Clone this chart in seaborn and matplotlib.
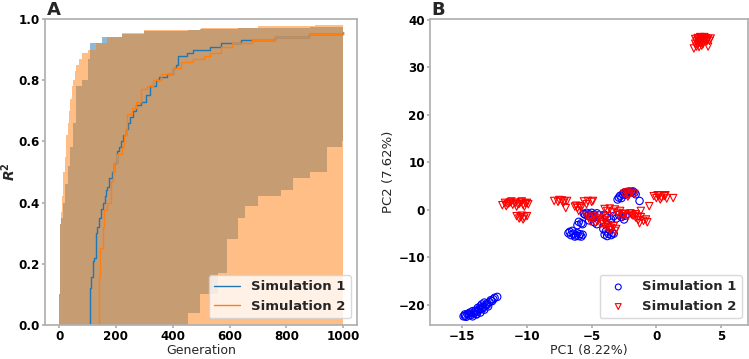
import matplotlib
matplotlib.use("Agg")
import matplotlib.pyplot as plt
import seaborn as sns

# ---- panel A: R^2 over generations (steps) ----
sim1_med_gen = [107, 110, 113, 118, 122, 130, 135, 139, 146, 153, 160, 165, 170, 176, 185, 194, 203, 210, 217,
                225, 234, 242, 250, 260, 270, 290, 305, 320, 340, 350, 380, 400, 410, 420, 450, 470, 530, 570,
                640, 760, 880, 1000]
sim1_med_r2 = [0.0, 0.12, 0.155, 0.21, 0.22, 0.30, 0.32, 0.35, 0.38, 0.40, 0.42, 0.44, 0.45, 0.48, 0.50, 0.53,
               0.57, 0.58, 0.60, 0.62, 0.64, 0.66, 0.68, 0.70, 0.72, 0.73, 0.75, 0.78, 0.80, 0.81, 0.82, 0.84,
               0.85, 0.88, 0.89, 0.90, 0.91, 0.92, 0.93, 0.94, 0.95, 0.957]
sim2_med_gen = [136, 139, 145, 153, 158, 170, 182, 188, 194, 205, 220, 228, 234, 240, 255, 270, 290, 310, 330,
                360, 400, 430, 470, 510, 530, 570, 610, 680, 760, 880, 1000]
sim2_med_r2 = [0.0, 0.155, 0.25, 0.32, 0.375, 0.40, 0.47, 0.50, 0.53, 0.56, 0.58, 0.62, 0.64, 0.69, 0.71, 0.73,
               0.77, 0.78, 0.80, 0.82, 0.84, 0.86, 0.87, 0.88, 0.89, 0.91, 0.92, 0.93, 0.94, 0.95, 0.957]

sim1_band_gen = [0, 2, 8, 15, 22, 30, 40, 50, 60, 80, 100, 110, 150, 220, 300, 455, 495, 560, 590, 630,
                 655, 700, 780, 825, 885, 945, 995, 1000]
sim1_band_lo = [0, 0, 0, 0, 0, 0, 0, 0, 0, 0, 0, 0, 0, 0, 0, 0.04, 0.10, 0.17, 0.28, 0.35, 0.39, 0.42, 0.44,
                0.48, 0.50, 0.58, 0.60, 0.60]
sim1_band_hi = [0.10, 0.33, 0.35, 0.40, 0.46, 0.52, 0.58, 0.66, 0.78, 0.80, 0.87, 0.92, 0.94, 0.952, 0.960,
                0.965, 0.967, 0.968, 0.969, 0.970, 0.970, 0.971, 0.972, 0.972, 0.973, 0.974, 0.975, 0.975]
sim2_band_gen = [0, 2, 5, 10, 15, 20, 25, 30, 35, 40, 45, 50, 55, 60, 70, 80, 100, 130, 170, 220, 300, 500,
                 700, 900, 1000]
sim2_band_lo = [0] * 25
sim2_band_hi = [0.10, 0.33, 0.37, 0.42, 0.50, 0.55, 0.62, 0.66, 0.70, 0.74, 0.78, 0.80, 0.83, 0.85, 0.87,
                0.89, 0.90, 0.92, 0.94, 0.955, 0.965, 0.972, 0.976, 0.979, 0.98]

# ---- panel B: PCA of individuals ----
sim1_pc1 = [-14.9, -14.7, -14.5, -14.8, -14.3, -14.1, -14.4, -13.9, -13.8, -14.0, -13.7, -13.6, -13.5, -13.8,
            -13.4, -13.3, -13.2, -13.5, -13.1, -13.0, -12.9, -13.3, -12.8, -12.6, -12.5, -12.3, -14.6, -14.2,
            -13.9, -13.6, -14.8, -14.5, -14.2, -14.0, -13.7, -13.4, -13.1, -12.7,
            -3.0, -2.9, -2.8, -2.6, -2.5, -2.3, -2.1, -1.9, -1.7, -1.6, -2.4, -2.2, -2.7, -1.3, -2.0, -1.8,
            -5.6, -5.4, -5.2, -5.0, -4.8, -4.6, -4.4, -5.3, -5.2, -4.8, -4.6, -5.5, -4.9,
            -6.0, -5.8, -6.1, -5.7, -6.5, -6.8, -6.6, -6.3, -6.0, -5.7, -6.4, -6.1, -5.8, -6.7, -6.2, -5.9,
            -4.1, -3.9, -3.7, -3.5, -3.4, -3.8, -4.0, -3.6, -3.3,
            -4.0, -3.8, -3.5, -3.3, -2.9, -2.7, -2.5, -2.4, -2.6, -3.1]
sim1_pc2 = [-22.4, -22.5, -22.2, -22.0, -22.1, -21.8, -21.6, -21.9, -21.4, -21.2, -21.0, -21.6, -20.8, -20.6,
            -20.4, -21.0, -20.1, -19.9, -19.7, -20.3, -19.4, -19.5, -19.0, -18.8, -18.5, -18.3, -21.9, -22.4,
            -22.0, -20.3, -22.3, -21.8, -21.3, -21.5, -20.9, -20.7, -20.0, -19.2,
            2.2, 2.6, 3.0, 3.3, 3.6, 3.8, 3.9, 3.8, 3.6, 3.3, 3.2, 3.5, 2.5, 1.9, 3.7, 3.9,
            -0.8, -0.6, -0.9, -0.6, -1.0, -0.7, -1.1, -1.2, -2.2, -2.6, -3.0, -1.0, -1.5,
            -2.5, -2.8, -3.2, -3.0, -4.4, -4.9, -5.3, -5.6, -5.5, -5.2, -5.0, -4.9, -5.6, -4.6, -5.4, -5.1,
            -4.0, -4.5, -5.0, -5.3, -4.8, -5.5, -5.2, -4.2, -5.0,
            -1.0, -1.6, -2.0, -1.3, -1.0, -1.5, -2.0, -1.2, -0.8, -1.8]

sim2_pc1 = [3.0, 3.2, 3.4, 3.6, 3.8, 4.0, 4.2, 3.1, 3.3, 3.5, 3.7, 3.9, 3.0, 3.2, 3.4, 3.6, 3.1, 2.9, 3.3,
            4.0, 3.5, 3.8, 3.3, 3.6, 3.9, 4.1, 3.2, 3.5, 3.4, 3.7,
            -11.9, -11.7, -11.5, -11.3, -11.1, -10.9, -10.7, -10.5, -10.3, -10.1, -9.9, -11.6, -10.8, -10.2,
            -11.2, -10.4, -11.4, -10.6, -10.0,
            -10.8, -10.6, -10.4, -10.2, -10.0, -10.3, -10.5,
            -7.9, -7.6, -7.3, -7.1, -6.9, -7.2, -7.0, -7.5,
            -6.3, -6.1, -5.9, -5.8, -6.0, -6.2,
            -5.6, -5.3, -5.0, -5.4, -4.9,
            -5.4, -5.2, -5.0, -4.8, -4.6, -4.4, -4.2, -4.0, -3.9, -5.1, -4.7, -4.3, -3.8, -4.5,
            -4.1, -3.9, -3.7, -3.5, -3.3, -3.1, -3.6, -3.2,
            -4.0, -3.8, -3.6, -3.4, -3.2, -3.0, -2.8, -2.6,
            -2.9, -2.6, -2.4, -2.2, -2.0, -1.8, -1.6, -1.4,
            -2.5, -2.3, -2.1, -1.9, -1.7, -2.2,
            -1.9, -1.6, -1.4, -1.2, -1.0, -0.8, -0.7, -1.3,
            -0.55, 1.3, -1.2,
            -0.2, 0.0, 0.2, 0.4, 0.6, 0.8, 0.3, 0.7, 0.1]
sim2_pc2 = [36.0, 36.2, 36.3, 36.1, 36.2, 36.0, 36.1, 35.5, 35.6, 35.4, 35.7, 35.5, 35.0, 34.8, 35.1, 34.9,
            34.4, 34.0, 34.3, 34.4, 35.9, 35.9, 35.2, 35.3, 35.8, 35.6, 35.8, 34.6, 36.4, 36.4,
            1.0, 1.5, 1.2, 1.6, 1.1, 1.5, 1.2, 1.6, 1.1, 1.4, 1.2, 0.8, 0.7, 0.7, 1.8, 1.8, 1.4, 1.3, 1.5,
            -1.3, -1.8, -1.2, -1.6, -1.3, -2.0, -1.5,
            1.9, 1.7, 2.0, 1.8, 1.9, 1.5, 0.4, 2.1,
            0.7, 0.4, 0.8, 0.5, -0.2, 0.9,
            1.8, 1.9, 1.7, 1.2, 1.9,
            -1.2, -1.6, -1.9, -1.4, -2.2, -1.8, -2.5, -2.1, -2.8, -2.4, -2.7, -3.0, -1.3, -1.1,
            -3.0, -3.6, -3.2, -3.8, -3.4, -4.0, -4.2, -4.4,
            0.2, -0.2, 0.3, -0.4, 0.1, -0.6, -0.2, -0.8,
            -1.1, -1.4, -0.9, -1.3, -0.7, -1.2, -0.9, -1.4,
            3.4, 3.7, 3.2, 3.6, 3.4, 2.8,
            -1.0, -1.6, -2.1, -1.5, -2.3, -2.0, -2.6, -2.8,
            0.8, 2.5, -0.2,
            2.9, 2.5, 3.0, 2.6, 2.9, 2.4, 2.2, 3.1, 3.1]

sns.set_theme(style="ticks")
plt.rcParams["font.family"] = ["DejaVu Sans"]
plt.rcParams["axes.edgecolor"] = "#b0b0b0"
plt.rcParams["xtick.color"] = "#b0b0b0"
plt.rcParams["ytick.color"] = "#b0b0b0"
plt.rcParams["xtick.labelcolor"] = "black"
plt.rcParams["ytick.labelcolor"] = "black"
plt.rcParams["xtick.major.size"] = 2.5
plt.rcParams["ytick.major.size"] = 2.5

fig = plt.figure(figsize=(7.49, 3.59), dpi=100)
ax1 = fig.add_axes([0.060, 0.095, 0.417, 0.852])
ax2 = fig.add_axes([0.574, 0.095, 0.425, 0.852])

c1, c2 = "#1f77b4", "#ff7f0e"

# bands (min-max) and median lines
ax1.fill_between(sim1_band_gen, sim1_band_lo, sim1_band_hi, step="post", color=c1, alpha=0.5, lw=0)
ax1.fill_between(sim2_band_gen, sim2_band_lo, sim2_band_hi, step="post", color=c2, alpha=0.5, lw=0)
sns.lineplot(x=sim1_med_gen, y=sim1_med_r2, ax=ax1, color=c1, lw=1, drawstyle="steps-post",
             label="Simulation 1")
sns.lineplot(x=sim2_med_gen, y=sim2_med_r2, ax=ax1, color=c2, lw=1, drawstyle="steps-post",
             label="Simulation 2")
ax1.set_xlim(-50, 1050)
ax1.set_ylim(0, 1.0)
ax1.set_xticks([0, 200, 400, 600, 800, 1000])
ax1.set_xlabel("Generation", fontsize=9)
ax1.set_ylabel(r"$\mathbfit{R}^{\mathbf{2}}$", fontsize=10)
ax1.xaxis.set_label_coords(0.5, -0.062)
ax1.yaxis.set_label_coords(-0.085, 0.5)
ax1.legend(loc="lower right", prop={"weight": "bold", "size": 9.5}, edgecolor="#d0d0d0")

# scatter of PCA
sns.scatterplot(x=sim1_pc1, y=sim1_pc2, ax=ax2, marker="o", s=28, color="blue", label="Simulation 1")
ax2.collections[-1].set_facecolor("none")
ax2.collections[-1].set_edgecolor("blue")
ax2.collections[-1].set_linewidth(0.8)
sns.scatterplot(x=sim2_pc1, y=sim2_pc2, ax=ax2, marker="v", s=28, color="red", label="Simulation 2")
ax2.collections[-1].set_facecolor("none")
ax2.collections[-1].set_edgecolor("red")
ax2.collections[-1].set_linewidth(0.8)
ax2.set_xlim(-17.5, 7.1)
ax2.set_ylim(-24.2, 40.2)
ax2.set_xticks([-15, -10, -5, 0, 5])
ax2.set_yticks([-20, -10, 0, 10, 20, 30, 40])
ax2.set_xlabel("PC1 (8.22%)", fontsize=9)
ax2.set_ylabel("PC2 (7.62%)", fontsize=9.5)
ax2.xaxis.set_label_coords(0.5, -0.062)
ax2.yaxis.set_label_coords(-0.11, 0.5)
ax2.legend(loc="lower right", prop={"weight": "bold", "size": 9.5}, edgecolor="#d0d0d0", markerscale=0.8)

for ax in (ax1, ax2):
    for lab in ax.get_xticklabels() + ax.get_yticklabels():
        lab.set_fontweight("bold")
        lab.set_fontsize(8.6)
    ax.tick_params(pad=1)
    for sp in ax.spines.values():
        sp.set_visible(True)
        sp.set_color("#b0b0b0")

fig.text(0.062, 0.997, "A", fontsize=13, fontweight="bold", va="top", ha="left")
fig.text(0.576, 0.997, "B", fontsize=13, fontweight="bold", va="top", ha="left")

fig.savefig("out.png", dpi=100)
